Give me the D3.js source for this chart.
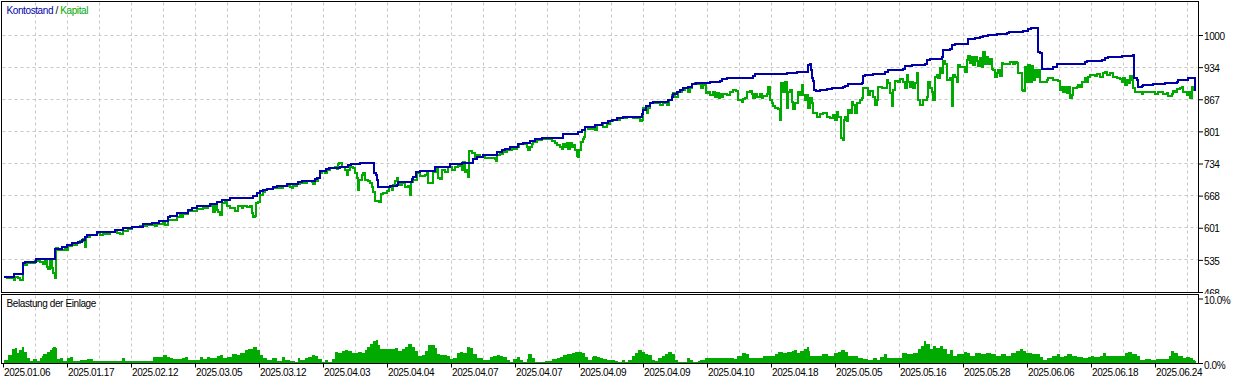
<!DOCTYPE html>
<html><head><meta charset="utf-8">
<script src="https://cdn.jsdelivr.net/npm/d3@7"></script>
<style>
body{margin:0;background:#fff}
svg{display:block}
text{font-family:"Liberation Sans",Arial,sans-serif;font-size:10px;letter-spacing:-0.4px}
</style></head><body>
<svg id="c" width="1233" height="381"></svg>
<script>
// ---- data (x = deal number, value = account currency / percent) ----
const dates = ["2025.01.06","2025.01.17","2025.02.12","2025.03.05","2025.03.12","2025.04.03","2025.04.04","2025.04.07","2025.04.07","2025.04.09","2025.04.09","2025.04.10","2025.04.18","2025.05.05","2025.05.16","2025.05.28","2025.06.06","2025.06.18","2025.06.24"];
const dateDeals = [0,64,128,192,256,320,384,448,512,576,640,704,768,832,896,960,1024,1088,1152];
const mainTicks = [468,534.5,601,667.5,734,800.5,867,933.5,1000];
const loadTicks = [0,10];

const balance = [[0,500],[10,505],[19,527],[21,530],[32,537],[51,558],[58,561],[63,565],[68,569],[74,572],[78,576],[81,582],[83,587],[93,592],[111,596],[119,600],[128,603],[139,609],[148,611],[155,616],[164,623],[166,625],[173,632],[184,638],[188,641],[193,645],[206,650],[213,654],[218,658],[226,663],
[249,667],[253,672],[256,678],[259,680],[263,682],[269,685],[273,687],[283,691],[294,695],[298,698],[311,701],[313,705],[316,719],[322,723],[325,724],[336,727],[344,730],[347,734],[356,736],[370,714],[372,710],[373,700],[374,686],[386,688],[393,690],[394,695],[408,701],[409,707],[412,717],[416,719],[431,726],[439,727],[446,733],[458,736],[469,743],[473,748],
[479,751],[493,758],[498,761],[501,763],[506,768],[509,769],[514,774],[519,776],[526,781],[531,785],[538,787],[559,795],[574,799],[578,803],[581,810],[591,814],[598,818],[604,821],[608,824],[613,829],[619,830],[636,831],[638,836],[639,845],[642,852],[646,860],[649,861],[664,865],[668,872],[669,878],[673,883],[676,886],[679,890],[684,893],[688,898],[692,901],[706,903],[716,905],
[718,908],[723,910],[743,912],[749,916],[751,919],[783,921],[793,923],[803,924],[804,938],[806,940],[807,928],[808,910],[809,905],[810,886],[812,884],[816,886],[823,888],[828,890],[839,893],[841,895],[844,898],[858,900],[859,915],[861,917],[869,919],[881,923],[884,928],[899,929],[901,936],[908,938],[921,941],[923,948],[926,951],[938,955],[939,969],[946,970],[948,979],[951,982],
[964,991],[966,992],[971,993],[976,995],[979,998],[984,1000],[993,1002],[1003,1004],[1005,1006],[1019,1008],[1024,1012],[1027,1014],[1034,965],[1036,962],[1038,929],[1049,933],[1053,939],[1066,940],[1071,941],[1081,944],[1083,947],[1098,948],[1101,952],[1104,955],[1118,957],[1129,958],[1130,910],[1133,907],[1134,893],[1138,894],[1139,896],[1149,899],[1161,900],[1173,903],[1174,907],[1184,910],[1188,912],[1191,886],[1192,886]];

const equity = [[0,500],[3,496],[10,493],[11,500],[14,497],[16,493],[19,529],[21,524],[23,529],[31,533],[34,536],[36,531],[39,526],[41,533],[43,519],[44,515],[46,534],[48,517],[49,507],[51,498],[52,559],[54,554],[58,555],[61,561],[63,554],[64,563],[68,565],[73,570],[76,574],[79,578],[81,561],[82,581],[86,587],[93,590],[96,587],[99,588],[106,593],[113,591],[116,588],[119,595],[124,598],[128,602],[136,605],[143,607],[151,605],[153,609],[159,610],[161,606],[164,617],[173,624],[176,627],[178,624],[179,629],[184,636],[193,640],[199,642],[204,646],[209,634],[211,645],[213,638],[214,634],[216,627],[218,652],[221,654],[223,645],[226,642],[229,642],[231,636],[234,645],
[236,645],[238,641],[239,645],[243,643],[246,645],[248,631],[249,624],[251,625],[252,652],[254,655],[256,669],[259,674],[261,679],[263,681],[268,682],[269,684],[279,687],[286,686],[288,683],[289,687],[293,691],[296,694],[303,698],[308,696],[309,692],[311,698],[314,705],[316,714],[318,719],[321,715],[323,721],[326,724],[331,727],[333,722],[334,733],[335,736],[338,726],[341,721],[343,710],[344,721],[346,726],[349,724],[351,715],[353,703],[354,679],[355,700],[358,710],[359,715],[361,700],[364,698],[366,693],[368,686],[369,676],[371,657],[375,655],[377,671],[379,672],[383,678],[385,685],[388,679],[389,689],[391,698],[393,703],[394,694],[396,689],[398,694],[401,686],[404,687],[406,669],[407,696],[409,700],[413,714],[416,708],[421,710],[423,714],[424,694],[428,693],[429,717],[433,722],[434,705],[436,701],[438,721],[441,717],[444,726],[448,721],[451,726],[454,729],[456,731],[458,721],[459,738],[461,717],[463,721],[464,707],[465,760],[468,755],[471,748],[473,752],[476,748],
[481,745],[491,743],[492,740],[493,752],[496,754],[499,758],[503,762],[508,765],[513,769],[515,774],[519,774],[523,769],[524,762],[526,768],[528,774],[529,779],[533,783],[538,784],[544,784],[548,781],[551,777],[553,772],[556,769],[558,765],[559,774],[561,768],[563,776],[564,763],[566,776],[568,769],[569,772],[571,762],[573,750],[574,747],[575,762],[577,779],[579,784],[580,788],[581,809],[584,805],[591,803],[593,814],[596,813],[599,810],[603,816],[606,821],[609,824],[616,828],[623,831],[629,828],[634,830],[636,823],[638,824],[639,848],[643,838],[644,848],[646,859],[653,859],[656,855],[659,859],[663,855],[665,865],[668,876],[669,879],[671,872],[674,883],[678,886],[681,890],[684,881],[686,890],[688,898],[691,900],[694,899],[697,890],[699,896],[702,879],[704,883],[706,876],[709,881],[711,872],[713,879],[715,869],[716,878],
[718,872],[719,878],[723,876],[726,883],[729,886],[732,884],[734,865],[738,862],[739,867],[741,869],[743,883],[746,884],[748,878],[749,869],[751,878],[753,872],[756,878],[758,869],[759,874],[763,878],[764,893],[766,865],[768,859],[769,853],[771,848],[774,846],[776,824],[777,900],[779,883],[781,903],[783,848],[784,881],[786,886],[788,862],[789,846],[791,859],[794,883],[796,876],[798,896],[799,876],[801,865],[803,876],[804,848],[806,869],[808,859],[809,839],[813,831],[816,836],[819,838],[823,831],[826,828],[829,834],[831,824],[833,841],[834,831],[837,786],[839,783],[840,824],[841,831],[843,821],[844,845],[846,838],[848,862],[849,855],[851,839],[853,859],[856,865],[858,869],[859,890],[863,890],[864,876],[866,885],[869,872],[871,855],[873,865],[874,893],[878,890],[881,890],[883,907],[884,900],[886,879],[888,853],[889,886],[891,905],[894,903],[896,908],[899,903],[901,890],[903,917],[904,903],[906,893],[908,903],[909,890],[911,900],[913,921],[914,865],[916,855],[919,865],[923,872],[924,903],[926,890],[928,883],[929,865],[931,914],[933,917],[934,910],[936,931],[938,921],[939,947],[941,941],[943,907],[946,910],[948,853],[949,917],[951,914],[953,903],[954,938],
[956,934],[959,933],[961,924],[963,948],[964,957],[966,943],[968,954],[969,938],[971,955],[973,947],[974,936],[976,952],[978,934],[979,965],[981,940],[983,955],[984,941],[986,950],[988,929],[989,928],[991,913],[993,921],[994,928],[996,915],[998,943],[999,940],[1004,941],[1006,945],[1009,941],[1011,945],[1013,943],[1014,921],[1016,922],[1018,886],[1019,885],[1021,934],[1023,903],[1024,938],[1026,903],[1028,936],[1029,907],[1031,928],[1033,914],[1034,928],[1036,903],[1043,907],[1044,910],[1049,907],[1054,905],[1056,886],[1058,893],[1059,883],[1061,893],[1063,879],[1064,893],[1066,869],[1068,876],[1069,890],[1073,893],[1074,896],[1076,893],[1078,903],[1081,910],[1083,903],[1084,914],[1086,917],[1091,915],[1093,919],[1096,914],[1099,921],[1101,924],[1103,917],[1106,921],[1109,914],[1113,912],[1116,908],[1118,903],[1119,910],[1121,896],[1123,907],[1124,900],[1126,915],[1128,907],[1129,890],[1131,883],[1136,883],[1138,878],[1139,883],[1148,883],[1151,878],[1154,881],[1156,883],[1159,878],[1163,879],[1164,874],[1168,878],[1169,885],[1171,881],[1173,888],[1176,890],[1178,893],[1179,881],[1181,883],[1183,876],[1184,881],[1186,869],[1188,893],[1190,886],[1192,886]];

const depositLoad = [[0,0.5],[4,1.2],[8,2.1],[11,2.3],[13,1.5],[15,2.0],[18,2.5],[20,1.75],[23,0.7],[26,0.35],[29,0.6],[33,0.35],[36,0.7],[38,1.1],[39,1.4],[43,1.75],[46,2.0],[48,2.3],[49,2.5],[52,2.4],[53,0.6],[56,0.7],[59,0.35],[63,0.7],[66,1.0],[69,0.35],[76,0.45],[83,0.55],[89,0.3],[96,0.35],[109,0.35],[118,0.7],[121,0.35],[129,0.25],[139,0.35],[149,0.9],[156,1.0],[159,1.25],[163,0.9],[166,0.7],[169,0.6],[178,0.7],[181,0.9],[184,0.45],[189,0.45],[196,0.9],[199,0.65],[203,1.0],[206,0.7],[213,1.1],[216,1.25],[219,0.7],[223,0.9],[228,1.4],[233,1.25],[236,1.5],[241,2.0],[244,2.2],[249,2.5],[253,2.0],[256,1.25],[259,0.7],[263,0.45],[268,0.7],[273,0.35],[278,1.0],[281,0.45],[286,0.35],[291,0.2],[294,0.7],
[296,0.45],[301,0.7],[304,0.9],[308,1.25],[311,1.1],[314,0.6],[318,0.2],[321,0.45],[324,0.2],[328,0.55],[331,1.75],[334,1.5],[338,1.9],[341,2.0],[344,1.9],[348,1.5],[351,1.6],[354,1.75],[358,1.6],[361,2.0],[363,2.5],[366,2.95],[369,3.45],[372,3.55],[374,2.8],[376,2.1],[383,2.1],[388,2.1],[391,2.3],[394,1.9],[398,2.1],[401,2.5],[404,2.95],[408,2.5],[411,1.9],[414,1.1],[418,1.25],[421,1.9],[424,2.8],[428,2.8],[431,2.3],[433,1.4],[436,1.25],[439,1.25],[443,1.1],[446,0.55],[449,0.7],[453,1.5],[456,1.75],[459,1.5],[463,2.45],[466,2.3],[469,1.4],[473,0.7],[476,0.7],[479,0.45],[483,0.45],[486,0.9],[489,1.1],[493,1.25],[496,1.1],[499,0.9],[503,0.45],[506,0.2],[509,0.55],[513,0.9],[516,0.45],[519,0.2],[523,0.55],[524,1.4],[528,0.7],[531,0.2],[536,0.2],[541,0.35],[544,0.35],[548,0.55],[553,0.7],[556,1.0],[559,1.25],[563,1.4],[568,1.6],[571,1.75],[574,1.75],[578,1.5],[581,0.9],[584,0.45],[588,0.9],[589,1.1],[593,0.9],[596,0.7],[599,0.55],[603,0.45],[608,0.45],[611,0.35],[614,0.2],[618,0.45],[621,0.2],[624,0.45],[628,1.1],[631,1.6],[634,2.0],[638,1.75],[641,1.4],[644,1.25],[648,0.45],[651,0.35],[654,0.7],[658,1.1],[661,1.4],[664,1.75],[668,1.4],[671,0.45],[674,0.2],[678,0.2],[683,0.7],[686,0.45],[689,0.2],[694,0.35],
[696,0.53],[701,0.79],[706,0.74],[713,0.74],[720,0.74],[727,0.79],[730,0.63],[733,1.16],[738,1.48],[742,1.32],[745,0.74],[750,0.74],[755,0.74],[759,1.05],[764,1.16],[771,1.32],[774,1.69],[779,1.58],[783,1.69],[788,1.84],[790,2.0],[793,1.48],[796,1.84],[800,2.1],[803,2.53],[805,1.84],[806,1.16],[810,1.05],[813,1.16],[818,1.32],[824,1.16],[830,1.48],[834,1.69],[837,1.95],[841,1.69],[844,1.16],[849,1.16],[854,0.79],[859,0.63],[864,0.53],[869,0.79],[873,0.53],[876,0.95],[880,1.32],[883,0.79],[886,0.79],[893,0.79],[898,1.48],[903,1.32],[909,1.48],[912,1.48],[914,2.1],[917,2.64],[920,3.43],[922,2.9],[926,2.1],[929,2.64],[932,2.37],[936,2.64],[939,2.1],[943,1.32],[946,2.0],[949,1.05],[953,1.32],[956,1.32],[960,1.69],[963,1.48],[966,1.16],[971,1.48],[977,1.32],[982,1.48],[987,1.32],[992,1.16],[997,1.32],[1002,1.16],[1007,1.48],[1012,1.84],[1016,2.1],[1019,1.84],[1022,1.58],[1028,1.32],[1033,1.32],[1036,0.95],[1039,0.53],[1043,0.79],[1048,1.16],[1053,1.32],[1056,0.95],[1060,1.16],[1063,1.32],[1068,1.05],[1073,0.95],[1079,0.79],[1084,0.95],[1087,1.16],[1090,0.95],[1096,1.05],[1099,1.58],[1102,1.16],[1106,1.05],[1111,1.16],[1116,1.05],[1121,1.48],[1124,1.69],[1128,1.32],[1133,1.16],[1136,0.53],[1141,0.63],[1147,0.53],[1152,0.63],[1157,0.63],[1162,0.63],[1165,1.05],[1167,1.84],[1170,1.58],[1174,1.05],[1179,0.74],[1182,0.95],[1186,0.79],[1189,0.53],[1191,0.26],[1192,0]];

// ---- colours / layout ----
const BLUE = "#0000aa", GREEN = "#00aa00", GRID = "#c8c8c8";
const L = 1.5, R = 1198.5, T = 1.5, MB = 292.5, LT = 294.5, LB = 363.5;

const svg = d3.select("#c");
const x = d3.scaleLinear().domain([0, 1192]).range([3.5, 1195.5]);
const y = d3.scaleLinear().domain([468, 1000]).range([292, 35]);
const yl = d3.scaleLinear().domain([0, 10]).range([363, 298.5]);

svg.append("rect").attr("width", 1233).attr("height", 381).attr("fill", "#fff");

// clip regions
const defs = svg.append("defs");
defs.append("clipPath").attr("id", "mainClip").append("rect")
  .attr("x", L + 0.5).attr("y", T + 0.5).attr("width", R - L - 1).attr("height", MB - T - 1);
defs.append("clipPath").attr("id", "lowClip").append("rect")
  .attr("x", L + 0.5).attr("y", LT + 0.5).attr("width", R - L - 1).attr("height", LB - LT - 1);
// local coordinates of the translated right axis group
defs.append("clipPath").attr("id", "labClip").append("rect")
  .attr("x", -2).attr("y", 0).attr("width", 40).attr("height", 294);

// vertical grid
const gridX = d3.range(32, 1192, 32);
const g = svg.append("g").attr("stroke", GRID).attr("stroke-width", 1).attr("stroke-dasharray", "3,3");
g.selectAll("line.vm").data(gridX).join("line")
  .attr("x1", d => x(d)).attr("x2", d => x(d)).attr("y1", T + 1).attr("y2", MB - 1);
g.selectAll("line.vl").data(gridX).join("line")
  .attr("x1", d => x(d)).attr("x2", d => x(d)).attr("y1", LT + 1).attr("y2", LB - 1);
g.selectAll("line.h").data(mainTicks.slice(1)).join("line")
  .attr("x1", L + 1).attr("x2", R - 1)
  .attr("y1", d => Math.floor(y(d)) + 0.5).attr("y2", d => Math.floor(y(d)) + 0.5);

// deposit load area
const area = d3.area().x(d => x(d[0])).y0(yl(0)).y1(d => yl(d[1])).curve(d3.curveStepAfter);
svg.append("path").datum(depositLoad).attr("clip-path", "url(#lowClip)")
  .attr("d", area).attr("fill", GREEN).attr("shape-rendering", "crispEdges");

// equity & balance
const lineStep = d3.line().x(d => x(d[0])).y(d => y(d[1])).curve(d3.curveStepAfter);
const mg = svg.append("g").attr("clip-path", "url(#mainClip)");
mg.append("path").datum(equity).attr("d", lineStep)
  .attr("fill", "none").attr("stroke", GREEN).attr("stroke-width", 2).attr("shape-rendering", "crispEdges");
mg.append("path").datum(balance).attr("d", lineStep)
  .attr("fill", "none").attr("stroke", BLUE).attr("stroke-width", 2).attr("shape-rendering", "crispEdges");

// frames
const fr = svg.append("g").attr("stroke", "#000").attr("stroke-width", 1).attr("fill", "none");
fr.append("rect").attr("x", L).attr("y", T).attr("width", R - L).attr("height", MB - T);
fr.append("rect").attr("x", L).attr("y", LT).attr("width", R - L).attr("height", LB - LT);

// right axes
const fmt = d3.format(".0f");
const ax1 = svg.append("g").attr("transform", `translate(${R + 0.5},0)`).attr("clip-path", "url(#labClip)")
  .call(d3.axisRight(y).tickValues(mainTicks).tickFormat(fmt).tickSize(4).tickPadding(1).offset(0.5));
const ax2 = svg.append("g").attr("transform", `translate(${R + 0.5},0)`)
  .call(d3.axisRight(yl).tickValues(loadTicks).tickFormat(d => d.toFixed(1) + "%").tickSize(4).tickPadding(1).offset(0.5));
const ax3 = svg.append("g").attr("transform", `translate(0,${LB})`)
  .call(d3.axisBottom(x).tickValues(dateDeals).tickFormat((d, i) => dates[i]).tickSize(4).tickPadding(1).offset(0));
[ax1, ax2, ax3].forEach(a => {
  a.attr("font-family", null).attr("font-size", null);
  a.select(".domain").remove();
  a.selectAll(".tick line").attr("stroke", "#000");
  a.selectAll(".tick text").attr("fill", "#000");
});
ax1.selectAll(".tick text").attr("dy", "0.42em");
ax2.selectAll(".tick text").attr("dy", "0.5em");
ax3.selectAll(".tick text").attr("text-anchor", "start").attr("x", 0.5);

// titles
const t1 = svg.append("text").attr("x", 6.5).attr("y", 13.5);
t1.append("tspan").attr("fill", BLUE).text("Kontostand");
t1.append("tspan").attr("fill", "#000").text(" / ");
t1.append("tspan").attr("fill", GREEN).text("Kapital");
svg.append("text").attr("x", 6.5).attr("y", 306.5).attr("fill", "#000").text("Belastung der Einlage");
</script></body></html>
